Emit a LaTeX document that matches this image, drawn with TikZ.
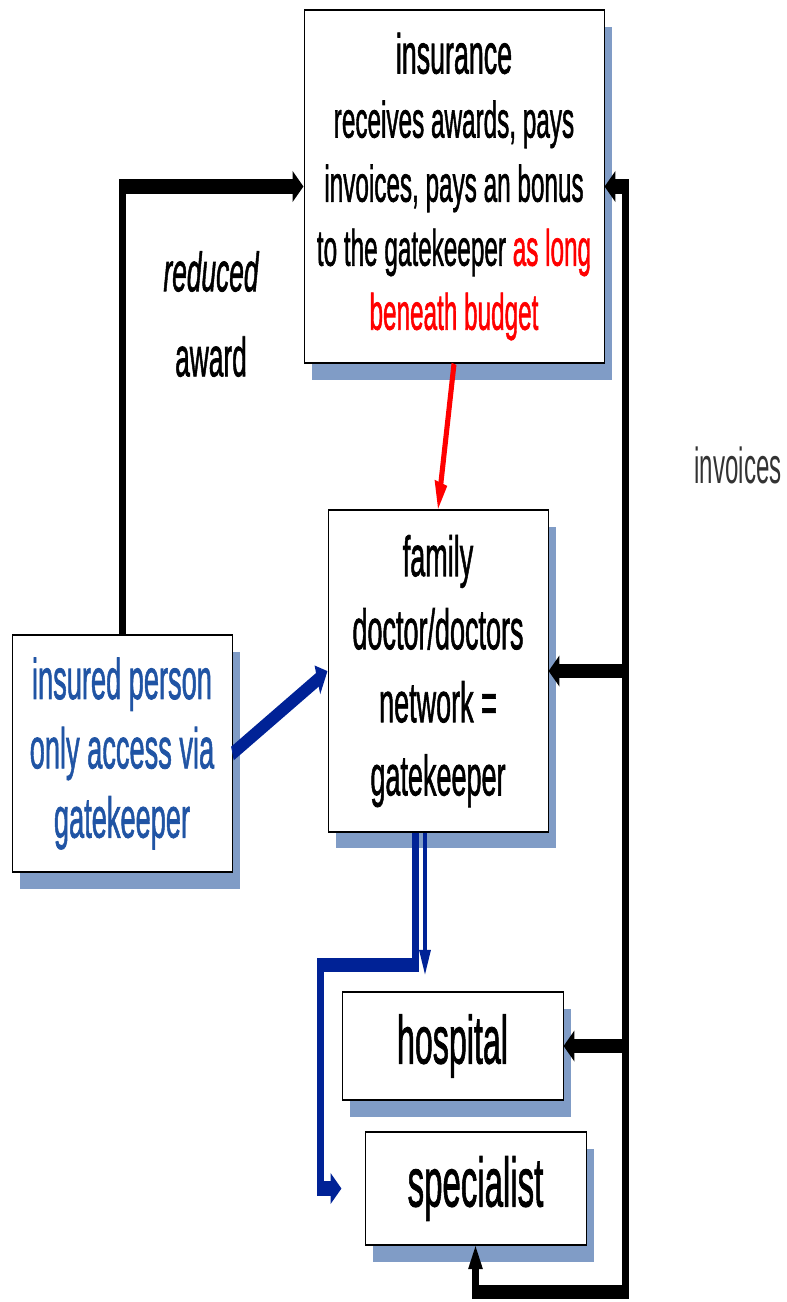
\documentclass[tikz,border=0pt]{standalone}
\usepackage{fontspec}
\setmainfont{Liberation Sans}[FakeBold=1.6]
\newfontfamily\lightfont{Liberation Sans}
\usetikzlibrary{arrows.meta,shadows}
\definecolor{shadowblue}{RGB}{128,156,198}
\definecolor{textblue}{RGB}{32,84,164}
\definecolor{linkblue}{RGB}{0,34,150}

\begin{document}
\begin{tikzpicture}
		\useasboundingbox (0,0) rectangle (787pt,-1302pt);
		\begin{scope}[x=1pt, y=-0.47619pt, transform canvas={yscale=2.1},
			box/.style={draw, line width=0.9pt, fill=white, align=center, inner sep=0pt,
				drop shadow={shadow xshift=8pt, shadow yshift=-8pt, fill=shadowblue, opacity=1}},
			flow/.style={line width=7pt, -{Triangle[length=11pt,width=14pt]}},
			thinflow/.style={line width=4pt, -{Triangle[length=12pt,width=11pt]}},
			redflow/.style={red, line width=5pt, -{Triangle[length=13pt,width=12pt]}}]
		
		\node [box, minimum width=300pt, minimum height=168pt, font=\fontsize{24.3}{30.5}\selectfont] (ins) at (454, 186.5)
			{{\fontsize{26.8}{30.5}\selectfont insurance}\\ receives awards, pays\\ invoices, pays an bonus\\ to the gatekeeper \textcolor{red}{as long}\\ \textcolor{red}{beneath budget}};
		\node [box, minimum width=220pt, minimum height=153pt, font=\fontsize{27}{34.8}\selectfont] (fam) at (438, 671)
			{family\\ doctor/doctors\\ network =\\ gatekeeper};
		\node [box, minimum width=220pt, minimum height=113pt, text=textblue, font=\fontsize{27.2}{33}\selectfont] (insured) at (122, 753.5)
			{insured person\\ only access via\\ gatekeeper};
		\node [box, minimum width=221pt, minimum height=51.4pt, font=\fontsize{32.2}{36}\selectfont] (hosp) at (452.5, 1046) {hospital};
		\node [box, minimum width=221pt, minimum height=53.8pt, font=\fontsize{33}{36}\selectfont] (spec) at (475.5, 1188.5) {specialist};
		
		\node [align=center, font=\fontsize{26.3}{40.5}\selectfont] (award) at (211, 314) {{\itshape reduced}\\ award};
		\node [text=black!80, font=\lightfont\fontsize{24.1}{29}\selectfont] (inv) at (738, 465) {invoices};
		
		% black lines
		\coordinate (corner) at (625, 1292);
		\draw [flow] (insured.north) |- (ins.west);
		\draw [flow, {Triangle[length=11pt,width=14pt]}-{Triangle[length=11pt,width=14pt]}] (ins.east) -| (corner) -| (spec.south);
		\draw [flow] (corner |- fam.east) -- (fam.east);
		\draw [flow] (corner |- hosp.east) -- (hosp.east);
		
		% red and blue lines
		\draw [redflow] (ins.south) -- (fam.north);
		\draw [flow, linkblue] (insured.east) -- (fam.west);
		
		\coordinate (bend) at (320, 965);
		\coordinate (specin) at ([xshift=-23pt]spec.west);
		\coordinate (hospin) at (425, 975);
		\draw [flow, linkblue] ([xshift=-23pt]fam.south) |- (bend) |- (specin);
		\draw [thinflow, linkblue] ([xshift=-13pt]fam.south) -- (hospin);
		\end{scope}
\end{tikzpicture}
\end{document}
